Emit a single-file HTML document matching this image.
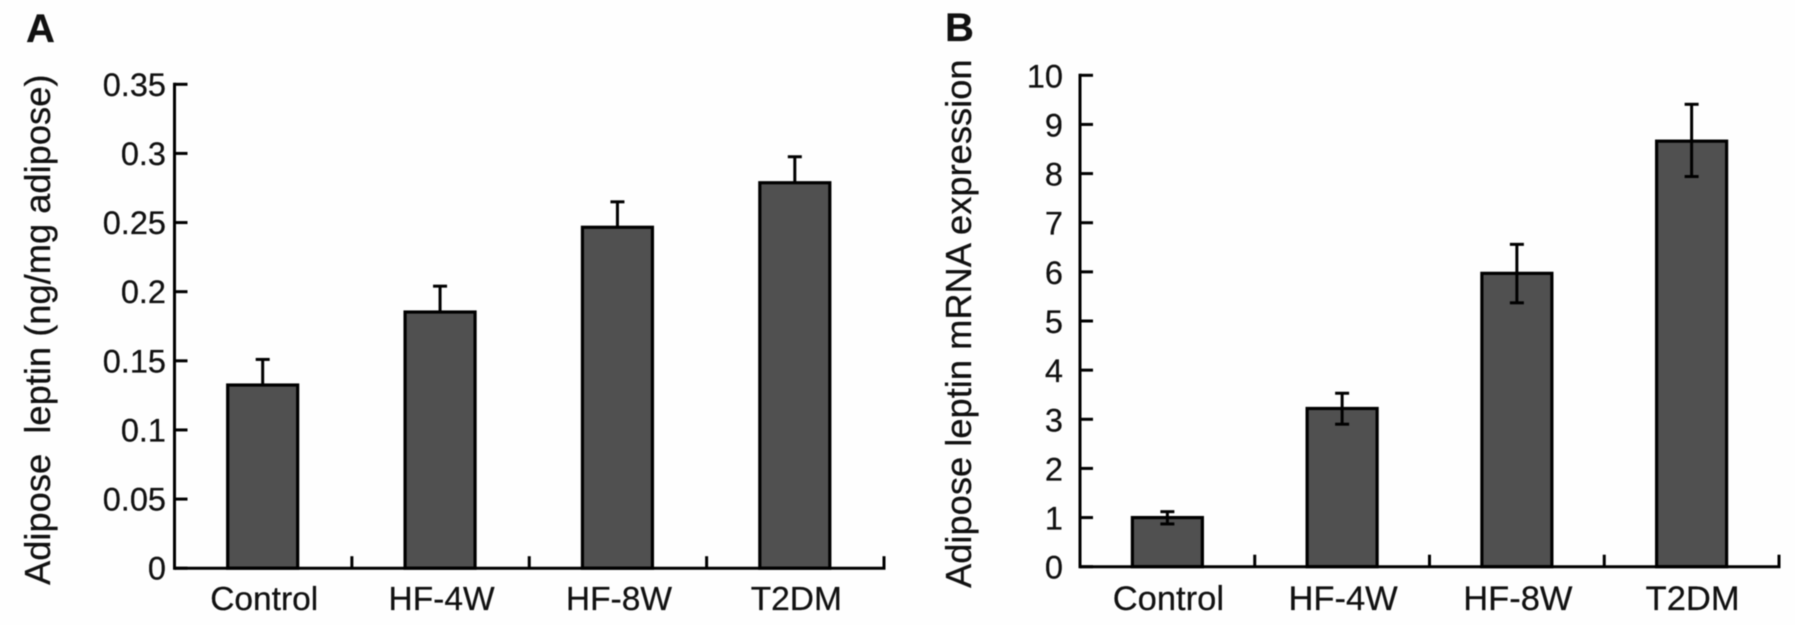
<!DOCTYPE html>
<html lang="en">
<head>
<meta charset="utf-8">
<title>Adipose leptin charts</title>
<style>
html,body{margin:0;padding:0;background:#fefefe;}
body{width:1795px;height:625px;overflow:hidden;}
svg{display:block;filter:blur(0.4px);}
text{font-family:"Liberation Sans",Arial,sans-serif;fill:#111;stroke:#111;stroke-width:0.25px;white-space:pre;}
</style>
</head>
<body>
<svg id="chart" xmlns="http://www.w3.org/2000/svg" width="1795" height="625" viewBox="0 0 1795 625">
  <rect x="0" y="0" width="1795" height="625" fill="#fefefe"/>
  <text x="26" y="42" font-size="40" font-weight="bold" fill="#000">A</text>
  <text x="945" y="41" font-size="40" font-weight="bold" fill="#000">B</text>
  <text transform="translate(50,585) rotate(-90)" font-size="36.3" xml:space="preserve">Adipose  leptin (ng/mg adipose)</text>
  <text transform="translate(971,588) rotate(-90)" font-size="36.3">Adipose leptin mRNA expression</text>
  <g id="panel-a"></g>
  <g id="panel-b"></g>
</svg>
<script>
const categories = ['Control', 'HF-4W', 'HF-8W', 'T2DM'];

const aTickLabels = ['0', '0.05', '0.1', '0.15', '0.2', '0.25', '0.3', '0.35'];
const aMeans = [0.1325, 0.1853, 0.2466, 0.2788];
const aErrHigh = [0.151, 0.204, 0.265, 0.2976];

const bTickLabels = ['0', '1', '2', '3', '4', '5', '6', '7', '8', '9', '10'];
const bMeans = [1.0, 3.22, 5.97, 8.66];
const bErrHigh = [1.12, 3.53, 6.56, 9.41];
const bErrLow = [0.87, 2.90, 5.37, 7.94];

const SVG_NS = 'http://www.w3.org/2000/svg';

function make(parent, tag, attrs, content) {
  const el = document.createElementNS(SVG_NS, tag);
  for (const key in attrs) el.setAttribute(key, attrs[key]);
  if (content !== undefined) el.textContent = content;
  parent.appendChild(el);
  return el;
}

function drawPanel(cfg) {
  const g = document.getElementById(cfg.id);
  const yMax = Number(cfg.tickLabels[cfg.tickLabels.length - 1]);
  const yScale = v => cfg.y0 - (v / yMax) * (cfg.y0 - cfg.yTop);
  const band = (cfg.xEnd - cfg.x0) / categories.length;
  const xScale = i => cfg.x0 + band * (i + 0.5);
  const lineStyle = { stroke: '#000', 'stroke-width': 3, fill: 'none' };

  categories.forEach((name, i) => {
    const cx = xScale(i) + cfg.barShift;
    const top = yScale(cfg.means[i]);
    const bar = make(g, 'rect', {
      x: cx - 35, y: top, width: 70, height: cfg.y0 - top,
      fill: '#505050', stroke: '#000', 'stroke-width': 3.2
    });
    
    

    const hi = yScale(cfg.errHigh[i]);
    const lo = cfg.errLow ? yScale(cfg.errLow[i]) : top;
    const stem = make(g, 'line', Object.assign({ x1: cx, x2: cx, y1: hi, y2: lo }, lineStyle));
    
    

    const capHigh = make(g, 'line', Object.assign({ x1: cx - 7, x2: cx + 7, y1: hi, y2: hi }, lineStyle));
    
    

    if (cfg.errLow) {
      const capLow = make(g, 'line', Object.assign({ x1: cx - 7, x2: cx + 7, y1: lo, y2: lo }, lineStyle));
      
      
    }

    const label = make(g, 'text', {
      x: xScale(i) + cfg.labelShift, y: cfg.labelY, 'font-size': cfg.labelSize, 'text-anchor': 'middle'
    }, name);
    
    

    const tick = make(g, 'line', Object.assign({
      x1: cfg.x0 + band * (i + 1), x2: cfg.x0 + band * (i + 1), y1: cfg.y0, y2: cfg.y0 - 12
    }, lineStyle));
    
    
  });

  const yAxis = make(g, 'line', Object.assign({
    x1: cfg.x0, x2: cfg.x0, y1: cfg.yTop - 1.5, y2: cfg.y0 + 1.5
  }, lineStyle));
  
  

  const xAxis = make(g, 'line', Object.assign({
    x1: cfg.x0, x2: cfg.xEnd + 1.5, y1: cfg.y0, y2: cfg.y0
  }, lineStyle));
  
  

  cfg.tickLabels.forEach(t => {
    const y = yScale(Number(t));
    const tick = make(g, 'line', Object.assign({
      x1: cfg.x0, x2: cfg.x0 + 13, y1: y, y2: y
    }, lineStyle));
    
    

    const label = make(g, 'text', {
      x: cfg.tickLabelX, y: y + cfg.tickLabelDy, 'font-size': cfg.tickSize, 'text-anchor': 'end'
    }, t);
    
    
  });
}

drawPanel({
  id: 'panel-a', tickLabels: aTickLabels, means: aMeans, errHigh: aErrHigh, errLow: null,
  x0: 174.5, xEnd: 884, y0: 568.2, yTop: 84.3, barShift: -0.5, labelShift: 1,
  labelY: 610, labelSize: 33.5, tickLabelX: 166, tickLabelDy: 11.5, tickSize: 32.5
});

drawPanel({
  id: 'panel-b', tickLabels: bTickLabels, means: bMeans, errHigh: bErrHigh, errLow: bErrLow,
  x0: 1080, xEnd: 1779, y0: 566.7, yTop: 75.3, barShift: 0, labelShift: 1,
  labelY: 610, labelSize: 34.5, tickLabelX: 1063, tickLabelDy: 12, tickSize: 32.5
});
</script>
</body>
</html>
